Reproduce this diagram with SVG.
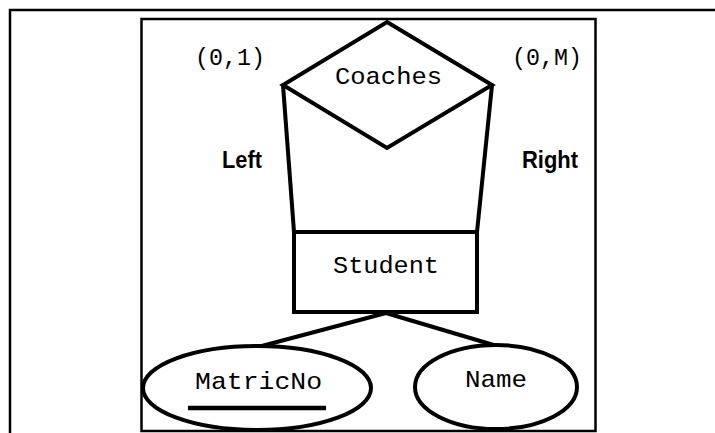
<svg xmlns="http://www.w3.org/2000/svg" width="715" height="433" viewBox="0 0 715 433">
<style>
.frame{fill:none;stroke:#000;stroke-width:2.5}
.shape{fill:#fff;stroke:#000;stroke-width:4;stroke-linejoin:miter}
.conn{fill:none;stroke:#000;stroke-width:4}
.mono{font-family:"Liberation Mono","Courier New",monospace;font-size:24px;fill:#000}
.lab{font-family:"Liberation Sans",Arial,sans-serif;font-size:23px;font-weight:bold;fill:#000}
</style>
<rect width="715" height="433" fill="#fff"/>
<g id="frame">
<path class="frame" d="M10,433 V10 H715"/>
<rect class="frame" x="141.5" y="19" width="454" height="412"/>
</g>
<g id="connectors">
<line class="conn" x1="283" y1="85" x2="294" y2="232"/>
<line class="conn" x1="492" y1="85" x2="477" y2="232"/>
<line class="conn" x1="386" y1="313" x2="258" y2="347"/>
<line class="conn" x1="386" y1="313" x2="497" y2="346"/>
</g>
<g id="coaches">
<polygon class="shape" points="387,22 492,85 387,148 283,85"/>
<text class="mono" x="335" y="84" textLength="107" lengthAdjust="spacingAndGlyphs">Coaches</text>
</g>
<g id="student">
<rect class="shape" x="294" y="232" width="183" height="80"/>
<text class="mono" x="333" y="273" textLength="106" lengthAdjust="spacingAndGlyphs">Student</text>
</g>
<g id="matricno">
<ellipse class="shape" cx="257" cy="388" rx="114" ry="42"/>
<text class="mono" x="195" y="389" textLength="127" lengthAdjust="spacingAndGlyphs">MatricNo</text>
<line x1="188" y1="408" x2="326" y2="408" stroke="#000" stroke-width="4.5"/>
</g>
<g id="name">
<ellipse class="shape" cx="496" cy="387" rx="81" ry="42"/>
<text class="mono" x="465" y="387" textLength="62" lengthAdjust="spacingAndGlyphs">Name</text>
</g>
<g id="labels">
<text class="mono" x="195" y="65" textLength="70" lengthAdjust="spacingAndGlyphs">(0,1)</text>
<text class="mono" x="512" y="65" textLength="70" lengthAdjust="spacingAndGlyphs">(0,M)</text>
<text class="lab" x="222" y="168" textLength="40" lengthAdjust="spacingAndGlyphs">Left</text>
<text class="lab" x="522" y="168" textLength="56" lengthAdjust="spacingAndGlyphs">Right</text>
</g>
</svg>
